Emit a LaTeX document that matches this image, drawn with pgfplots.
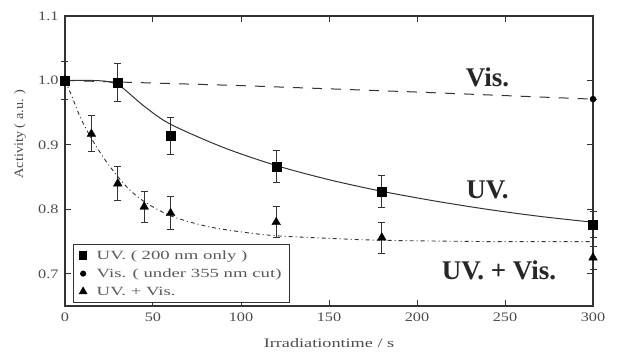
\documentclass[border=0pt]{standalone}
\usepackage{pgfplots}
\pgfplotsset{compat=1.18}
\usepackage{fontspec}
\setmainfont{Liberation Serif}
\definecolor{ln}{HTML}{333333}
\begin{document}
\begin{tikzpicture}
\begin{axis}[
  name=ax,
  scale only axis, width=528pt, height=290pt,
  xmin=0, xmax=300, ymin=0.65, ymax=1.1,
  xtick={0,50,100,150,200,250,300},
  ytick={0.7,0.8,0.9,1.0,1.1},
  /pgf/number format/assume math mode=true,
  xticklabel={\scalebox{1.25}[1]{\pgfmathprintnumber{\tick}}},
  yticklabel={\scalebox{1.25}[1]{\pgfmathprintnumber[fixed,precision=1,fixed zerofill]{\tick}}},
  tick align=inside, major tick length=6pt,
  tick style={ln, line width=1pt},
  axis line style={ln, line width=1.2pt},
  ticklabel style={font=\fontsize{13}{13}\selectfont, text=black!70},
  xticklabel style={yshift=-3pt},
  yticklabel style={xshift=-3pt},
  xlabel={\scalebox{1.4}[1]{Irradiationtime / s}},
  ylabel={\scalebox{1.1}[1]{Activity ( a.u. )}},
  label style={font=\fontsize{13}{13}\selectfont, text=black!70},
  xlabel style={at={(rel axis cs:0.5,0)}, anchor=center, yshift=-37pt},
  ylabel style={at={(rel axis cs:0,0.593)}, anchor=center, yshift=45pt},
  clip=false,
  legend style={at={(0.015,0.01)}, anchor=south west, draw=ln, line width=1.2pt,
     font=\fontsize{12.5}{13}\selectfont, text=black!65, row sep=4pt, inner xsep=6pt, inner ysep=4pt},
  legend image post style={scale=0.8},
  legend cell align=left,
  error bars/error bar style={ln, line width=1pt},
  error bars/error mark options={ln, line width=1pt, mark size=3.5pt, rotate=90},
]
% fitted curves
\addplot[ln, line width=1pt, forget plot, smooth] coordinates {
 (0,1.0) (15,1.0) (25,0.998) (32,0.99) (45,0.96) (60,0.932) (90,0.896) (120,0.868) (150,0.846) (180,0.828) (210,0.813) (240,0.8) (270,0.789) (300,0.78)};
\addplot[ln, line width=1pt, forget plot, dash pattern=on 10pt off 9pt] coordinates {
 (0,1.0) (100,0.992) (200,0.982) (300,0.971)};
\addplot[ln, line width=0.9pt, forget plot, smooth, dash pattern=on 4pt off 3pt on 1pt off 3pt] coordinates {
 (0,1.0) (4,0.975) (8.5,0.944) (15,0.91) (24,0.872) (35,0.835) (45,0.812) (60,0.79) (80,0.774) (100,0.765) (120,0.759) (150,0.755) (180,0.752) (240,0.75) (300,0.75)};
% data
\addplot[only marks, mark=square*, mark size=4.5pt, mark options={black}, error bars/.cd, y dir=both, y explicit]
 table[x=x, y=y, y error=e] {
x y e
0 1.0 0.0
30 0.997 0.03
60 0.914 0.029
120 0.866 0.025
180 0.828 0.025
300 0.776 0.02
};
\addlegendentry{\hspace{8pt}\scalebox{1.5}[1]{UV. ( 200 nm only )}}
\addplot[only marks, mark=*, mark size=3pt, mark options={black}, error bars/.cd, y dir=both, y explicit]
 table[x=x, y=y, y error=e] {
x y e
0 1.0 0.03
300 0.971 0.0
};
\addlegendentry{\hspace{8pt}\scalebox{1.5}[1]{Vis. ( under 355 nm cut)}}
\addplot[only marks, mark=triangle*, mark size=5pt, mark options={black}, error bars/.cd, y dir=both, y explicit]
 table[x=x, y=y, y error=e] {
x y e
0 1.0 0.0
15 0.917 0.028
30 0.840 0.026
45 0.804 0.024
60 0.794 0.026
120 0.780 0.024
180 0.756 0.024
300 0.725 0.018
};
\addlegendentry{\hspace{8pt}\scalebox{1.5}[1]{UV. + Vis.}}
\node[font=\bfseries\fontsize{27}{27}\selectfont, text=black!85] at (axis cs:240,1.005) {Vis.};
\node[font=\bfseries\fontsize{27}{27}\selectfont, text=black!85] at (axis cs:240,0.830) {UV.};
\node[font=\bfseries\fontsize{27}{27}\selectfont, text=black!85] at (axis cs:246.6,0.706) {UV. + Vis.};
\end{axis}
\pgfresetboundingbox
\path[use as bounding box] ([shift={(-65pt,-48pt)}]ax.south west) rectangle ([shift={(25pt,16pt)}]ax.north east);
\end{tikzpicture}
\end{document}
